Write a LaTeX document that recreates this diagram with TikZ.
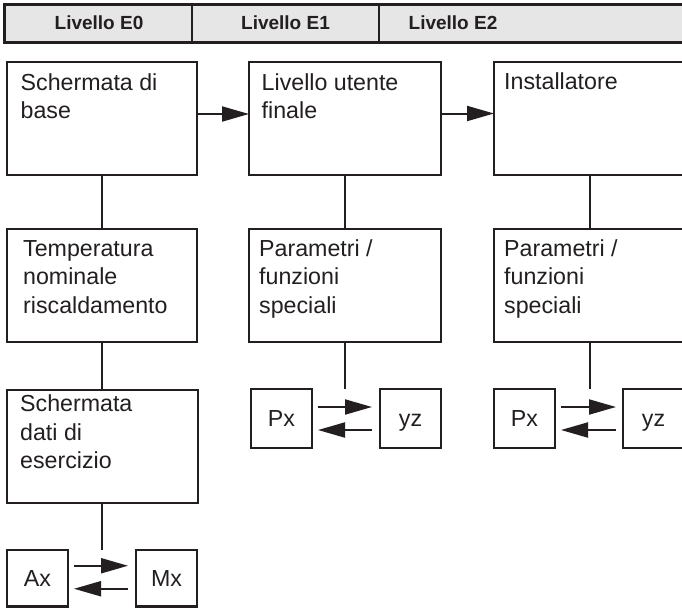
\documentclass[tikz,border=0pt]{standalone}
\usepackage{fontspec}
\setmainfont{Liberation Sans}
\usetikzlibrary{arrows.meta}
\definecolor{ink}{HTML}{231F20}
\definecolor{hdrgray}{HTML}{E6E6E6}
\begin{document}
\begin{tikzpicture}[x=1pt,y=-1pt,
  box/.style={draw=ink, line width=2.2pt, rectangle, inner sep=0pt, outer sep=0pt, anchor=north west},
  sbox/.style={box, minimum width=61pt, minimum height=59pt, text height=16.5pt, text depth=0pt,
    font=\fontsize{23.2}{28.5}\selectfont, text=ink},
  lbl/.style={anchor=base west, inner sep=0pt, text=ink, font=\fontsize{23.2}{28.5}\selectfont},
  hdrtxt/.style={anchor=base, inner sep=0pt, text=ink, font=\bfseries\fontsize{19}{22}\selectfont},
  conn/.style={draw=ink, line width=2pt},
  arr/.style={draw=ink, line width=2pt, -{Triangle[length=27pt,width=15pt]}}
]
\useasboundingbox (0,0) rectangle (682,608);
\clip (0,0) rectangle (682,608);
\fill[white] (0,0) rectangle (682,608);

% header
\node[box, line width=3pt, fill=hdrgray, minimum width=720pt, minimum height=37.5pt] (hdr) at (4,4.5) {};
\draw[ink, line width=1.8pt] (192,4.5) -- (192,42);
\draw[ink, line width=1.8pt] (379,4.5) -- (379,42);
\node[hdrtxt] (h0) at (99,29) {Livello E0};
\node[hdrtxt] (h1) at (285.5,29) {Livello E1};
\node[hdrtxt] (h2) at (453,29) {Livello E2};

% main boxes
\node[box, minimum width=190pt, minimum height=113pt] (b0) at (7,62) {};
\node[box, minimum width=192pt, minimum height=113pt] (b1) at (249,62) {};
\node[box, minimum width=192pt, minimum height=113pt] (b2) at (494,62) {};
\node[box, minimum width=190pt, minimum height=113pt] (t0) at (7,229) {};
\node[box, minimum width=192pt, minimum height=113pt] (t1) at (249,229) {};
\node[box, minimum width=192pt, minimum height=113pt] (t2) at (494,229) {};
\node[box, minimum width=191pt, minimum height=113pt] (s0) at (7,390) {};

% labels
\node[lbl] (lb0) at (20.5,90) {\begin{tabular}[t]{@{}l@{}}Schermata di\\base\end{tabular}};
\node[lbl] (lb1) at (261.5,90) {\begin{tabular}[t]{@{}l@{}}Livello utente\\finale\end{tabular}};
\node[lbl] (lb2) at (504,89) {Installatore};
\node[lbl] (lt0) at (23,256) {\begin{tabular}[t]{@{}l@{}}Temperatura\\nominale\\riscaldamento\end{tabular}};
\node[lbl] (lt1) at (259,256) {\begin{tabular}[t]{@{}l@{}}Parametri /\\funzioni\\speciali\end{tabular}};
\node[lbl] (lt2) at (504,256) {\begin{tabular}[t]{@{}l@{}}Parametri /\\funzioni\\speciali\end{tabular}};
\node[lbl] (ls0) at (20,411.5) {\begin{tabular}[t]{@{}l@{}}Schermata\\dati di\\esercizio\end{tabular}};

% small boxes
\node[sbox, minimum height=56.5pt] (ax) at (7,550) {Ax};
\node[sbox, minimum height=56.5pt] (mx) at (136,550) {Mx};
\node[sbox] (px1) at (251,389) {Px};
\node[sbox] (yz1) at (380,389) {yz};
\node[sbox] (px2) at (494,389) {Px};
\node[sbox] (yz2) at (623,389) {yz};

% connectors
\draw[arr] ([yshift=4.5pt]b0.east) -- ([yshift=4.5pt]b0.east -| b1.west);
\draw[arr] ([yshift=5pt]b1.east) -- ([yshift=5pt]b1.east -| b2.west);
\draw[conn] (b0.south) -- (t0.north);
\draw[conn] (t0.south) -- (s0.north -| t0.south);
\draw[conn] (s0.south -| t0.south) -- (ax.north -| t0.south);
\draw[conn] (b1.south) -- (t1.north);
\draw[conn] (b2.south) -- (t2.north);
\draw[conn] (t1.south) -- (t1.south |- px1.north);
\draw[conn] (t2.south) -- (t2.south |- px2.north);

\draw[arr, shorten <=6pt, shorten >=8pt] ([yshift=12.5pt]ax.east) -- ([yshift=12.5pt]ax.east -| mx.west);
\draw[arr, shorten <=8pt, shorten >=6pt] ([yshift=-10.5pt]mx.west) -- ([yshift=-10.5pt]mx.west -| ax.east);
\draw[arr, shorten <=6pt, shorten >=8pt] ([yshift=11.5pt]px1.east) -- ([yshift=11.5pt]px1.east -| yz1.west);
\draw[arr, shorten <=8pt, shorten >=6pt] ([yshift=-11.5pt]yz1.west) -- ([yshift=-11.5pt]yz1.west -| px1.east);
\draw[arr, shorten <=6pt, shorten >=7pt] ([yshift=11.5pt]px2.east) -- ([yshift=11.5pt]px2.east -| yz2.west);
\draw[arr, shorten <=7pt, shorten >=6pt] ([yshift=-11.5pt]yz2.west) -- ([yshift=-11.5pt]yz2.west -| px2.east);
\end{tikzpicture}
\end{document}
